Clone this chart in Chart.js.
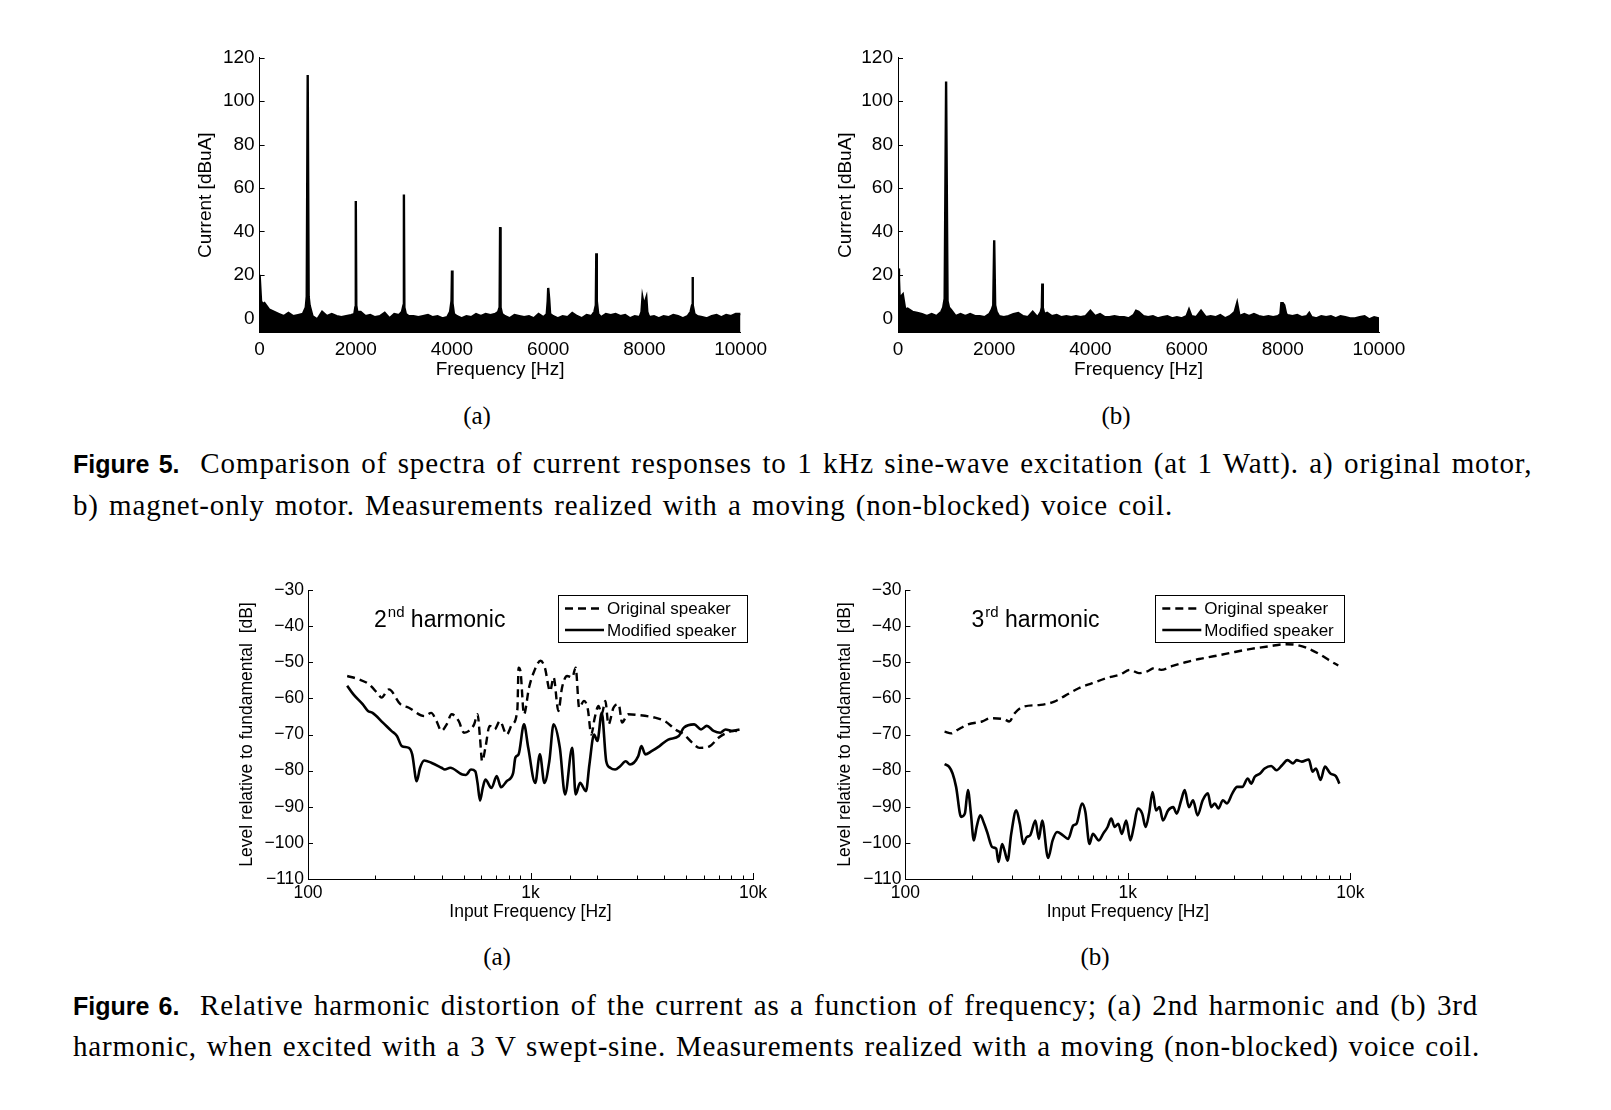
<!DOCTYPE html>
<html>
<head>
<meta charset="utf-8">
<script src="https://cdn.jsdelivr.net/npm/chart.js@4.4.1/dist/chart.umd.min.js"></script>
<style>
  body { margin: 0; background: #fff; width: 1611px; height: 1110px; position: relative; overflow: hidden; }
  canvas { position: absolute; }
  .cap { position: absolute; left: 73px; font-family: "Liberation Serif", serif; font-size: 29px; line-height: 34px; white-space: nowrap; color: #000; }
  .cap b { font-family: "Liberation Sans", sans-serif; font-size: 25px; letter-spacing: 0; }
  .sub { position: absolute; font-family: "Liberation Serif", serif; font-size: 25px; line-height: 30px; transform: translate(-50%, -50%); }
</style>
</head>
<body>
<canvas id="f5a" width="610" height="370" style="left:180px;top:30px"></canvas>
<canvas id="f5b" width="620" height="370" style="left:800px;top:30px"></canvas>
<canvas id="f6a" width="560" height="370" style="left:220px;top:570px"></canvas>
<canvas id="f6b" width="580" height="370" style="left:800px;top:570px"></canvas>

<div class="sub" style="left:477px;top:416px">(a)</div>
<div class="sub" style="left:1116px;top:416px">(b)</div>
<div class="cap" data-w="1457" style="top:446px"><b>Figure 5.</b>&nbsp; Comparison of spectra of current responses to 1 kHz sine-wave excitation (at 1 Watt). a) original motor,</div>
<div class="cap" data-w="1100" style="top:488px">b) magnet-only motor. Measurements realized with a moving (non-blocked) voice coil.</div>

<div class="sub" style="left:497px;top:957px">(a)</div>
<div class="sub" style="left:1095px;top:957px">(b)</div>
<div class="cap" data-w="1403" style="top:988px"><b>Figure 6.</b>&nbsp; Relative harmonic distortion of the current as a function of frequency; (a) 2nd harmonic and (b) 3rd</div>
<div class="cap" data-w="1407" style="top:1029px">harmonic, when excited with a 3 V swept-sine. Measurements realized with a moving (non-blocked) voice coil.</div>

<script>
// Figure 5a - original motor spectrum
var freqA = [0, 30, 60, 100, 200, 300, 400, 500, 600, 700, 800, 900,
  960, 980, 1000, 1020, 1040,
  1100, 1200, 1300, 1400, 1500, 1600, 1700, 1800, 1900,
  1970, 1990, 2000, 2010, 2030,
  2100, 2200, 2300, 2400, 2500, 2600, 2700, 2800, 2900,
  2960, 2990, 3000, 3010, 3040,
  3100, 3200, 3300, 3400, 3500, 3600, 3700, 3800, 3900,
  3960, 3990, 4000, 4010, 4040,
  4100, 4200, 4300, 4400, 4500, 4600, 4700, 4800, 4900,
  4960, 4990, 5000, 5010, 5040,
  5100, 5200, 5300, 5400, 5500, 5600, 5700, 5800, 5900,
  5970, 5990, 6000, 6020, 6040,
  6100, 6200, 6300, 6400, 6500, 6600, 6700, 6800, 6900,
  6960, 6990, 7000, 7010, 7040,
  7100, 7200, 7300, 7400, 7500, 7600, 7700, 7800, 7900,
  7940, 7960, 7990, 8040, 8060,
  8100, 8200, 8300, 8400, 8500, 8600, 8700, 8800, 8900,
  8960, 8990, 9000, 9010, 9040,
  9100, 9200, 9300, 9400, 9500, 9600, 9700, 9800, 9900, 10000];
var levelA = [20, 8, 6.5, 7, 4, 3, 2, 1, 2.5, 1, 1.5, 2,
  5, 10, 112, 10, 6,
  1, -0.5, 3, 1, 2, 1, 0.5, 1, 1.5,
  2, 5, 54, 6, 3,
  3, 1, 1.5, 0.5, 1, 2.5, 0, 2, 1.5,
  3, 6, 57, 5, 2,
  1, 1, 0.5, 1, 1.5, 0.5, 1, 0, 0.5,
  3, 8, 22, 7, 2,
  1, 0, 1, 0.5, 2, 1, 2, 1.5, 2,
  3, 5, 42, 5, 2,
  1, 0, 1.5, 1, 0.5, 1, 0, 2, 0.5,
  2, 8, 14, 9, 2,
  1, 0, 1, 0.5, 2.5, 1, 0, 1.5, 1,
  3, 6, 30, 8, 2,
  0.5, 2, 1.5, 2, 1, 1.5, 0, 1, 0.5,
  3, 9.5, 6, 9.5, 3,
  0.5, 1, 0, 1, 0.5, 1.5, 1, 0, 1,
  3, 6, 19, 6, 2,
  1, 0.5, 0, 1, 1.5, 0.5, 1.5, 1, 2, 2];

// Figure 5b - magnet-only motor spectrum
var freqB = [0, 20, 40, 60, 100, 150, 200, 300, 400, 500, 600, 700, 800, 900,
  940, 970, 1000, 1030, 1060,
  1100, 1200, 1300, 1400, 1500, 1600, 1700, 1800, 1900,
  1950, 1980, 2000, 2020, 2050,
  2100, 2200, 2300, 2400, 2500, 2600, 2700, 2800, 2900,
  2970, 2990, 3000, 3010, 3040,
  3100, 3200, 3300, 3400, 3500, 3600, 3700, 3800, 3900,
  4000, 4100, 4200, 4300, 4400, 4500, 4600, 4700, 4800, 4900,
  4950, 5000,
  5100, 5200, 5300, 5400, 5500, 5600, 5700, 5800, 5900,
  6000, 6050,
  6100, 6200, 6300, 6400, 6500, 6600, 6700, 6800, 6900,
  6950, 7000, 7050,
  7100, 7200, 7300, 7400, 7500, 7600, 7700, 7800, 7900,
  7950, 7970, 8000, 8030, 8070,
  8100, 8200, 8300, 8400, 8500, 8550,
  8600, 8700, 8800, 8900, 9000, 9100, 9200, 9300, 9400, 9500, 9600, 9700, 9800, 9900, 10000];
var levelB = [23, 18, 6, 10, 11, 4, 4.5, 3, 2.5, 2, 1, 2, 1, 3,
  5, 9, 109, 8, 5,
  4, 1, 2, 1, 2, 1, 1, 0.5, 2,
  4, 6, 36, 6, 3,
  1, 0.5, 1, 2, 2.5, 1, 0.5, 3, 0.5,
  3, 5, 16, 5, 2,
  2.5, 1, 1.5, 0.5, 1, 0.5, 1, 0.5, 1,
  3.5, 1, 2, 0.5, 0.5, 1, 0.5, 0.5, 0, 1.5,
  3.5, 3,
  1, 0.5, 1, 0, 0.5, 1, 0, 0.5, 0,
  1, 4,
  1, 0.5, 3.5, 0.5, 1, 0.5, 1.5, 0, 1,
  2, 3, 7,
  1, 2, 1, 2, 1, 0.5, 1, 0.5, 1,
  2, 7, 7, 6, 2,
  1.5, 1, 1.5, 0.5, 1, 2.5,
  0.5, 0, 1, 0.5, 1, 0, 1, 0.5, 0, 0, 0.5, 1, -0.5, 0.5, 0];

// Figure 6a - 2nd harmonic
var freq2Orig = [150, 169, 188, 206, 214, 231, 260, 284, 333, 358, 378, 398, 420, 442, 476, 502, 529, 558, 578, 593,
  606, 627, 655, 690, 728, 782, 827, 873, 884, 901, 935, 985, 1040, 1110, 1160, 1225, 1270, 1335, 1385, 1460,
  1540, 1596, 1655, 1740, 1810, 1875, 1945, 2020, 2090, 2170, 2240, 2360, 2490, 2580, 2740, 3050, 3600, 4010, 4480, 4890,
  5340, 5740, 6400, 7000, 7660, 8230, 8700];
var level2Orig = [-53.8, -54.7, -56.1, -58.7, -59.8, -57.5, -61.6, -62.6, -64.9, -64, -66.3, -69, -67.2, -64.4, -66.3, -69.5, -69, -67.2, -64.4, -70.9,
  -77.4, -73.7, -67.6, -68.6, -66.3, -70, -67.2, -63, -51.5, -52.4, -64.4, -57, -52.4, -49.6, -51.5, -58, -54.2, -63.5, -57.1, -53.8,
  -54.2, -51.5, -62.6, -60.7, -63, -70, -65.3, -62.1, -64.4, -60.7, -67.2, -62.6, -61.6, -66.7, -64.4, -64.6, -65.3, -66.3, -68.6, -70,
  -72.3, -73.7, -73.2, -70.9, -69.5, -69, -69.2];
var freq2Mod = [150, 160, 176, 186, 195, 217, 237, 251, 264, 284, 294, 308, 319, 333, 358, 398, 412, 436, 494, 513,
  540, 565, 578, 593, 610, 627, 668, 705, 737, 782, 836, 855, 884, 935, 977, 1050, 1102, 1155, 1215, 1270,
  1355, 1430, 1540, 1596, 1670, 1775, 1840, 1930, 1998, 2090, 2190, 2280, 2400, 2530, 2680, 2800, 3050, 3150, 3280, 3500,
  3800, 4160, 4640, 4890, 5440, 5840, 6200, 6650, 7130, 7530, 8100, 8700];
var level2Mod = [-56.5, -58.9, -61.6, -63.5, -64, -66.7, -69, -70.4, -73.2, -73.7, -75.5, -82.9, -79.2, -77.2, -77.8, -79.2, -79.7, -79.2, -81.1, -81.2,
  -79.7, -80.2, -83.4, -88.3, -84.8, -82.5, -84.8, -81.5, -84.6, -82.9, -80.6, -76.4, -75.5, -67.2, -73.7, -83.4, -75.5, -83.4, -77.4, -67.2,
  -73.7, -86.6, -73.7, -86.6, -83.4, -85.7, -78.3, -70, -71.8, -64, -77.4, -79.2, -79.7, -78.8, -77.4, -78.3, -76, -73.2, -75.5, -74.6,
  -73.2, -71.4, -70.4, -68.1, -67.2, -68.6, -67.6, -69, -69.5, -68.6, -69, -68.6];

// Figure 6b - 3rd harmonic
var freq3Orig = [150, 161, 172, 191, 221, 241, 279, 293, 310, 339, 405, 467, 521, 601, 692, 799, 922, 1025, 1120, 1224,
  1318, 1412, 1575, 1814, 2090, 2506, 3000, 3587, 4290, 5130, 5700, 6350, 7340, 8160, 8830];
var level3Orig = [-69.2, -69.7, -68.7, -67.2, -66.4, -65.5, -65.8, -66.4, -64.1, -62.3, -61.8, -60.9, -59.3, -57.2, -55.8, -54.4, -53.4, -52.1, -53, -52.5,
  -51.6, -52.1, -51.1, -50, -49.1, -48.2, -47.2, -46.3, -45.6, -45, -45.2, -46, -47.9, -49.7, -50.9];
var freq3Mod = [150, 157, 163, 169, 178, 185, 191, 197, 203, 209, 217, 226, 233, 246, 256, 262, 272, 279, 288, 299,
  315, 327, 339, 351, 364, 384, 398, 412, 438, 459, 481, 511, 539, 568, 588, 622, 644, 672, 696, 741,
  774, 811, 842, 873, 906, 939, 983, 1026, 1063, 1108, 1160, 1202, 1245, 1292, 1338, 1387, 1438, 1517, 1599, 1658,
  1737, 1801, 1881, 1965, 2057, 2170, 2290, 2370, 2460, 2553, 2675, 2790, 2950, 3100, 3270, 3460, 3585, 3720, 3930, 4120,
  4410, 4660, 4935, 5220, 5530, 5740, 6050, 6510, 6760, 7010, 7350, 7690, 8140, 8610, 8930];
var level3Mod = [-78.2, -78.9, -80.8, -84.5, -92.8, -91.9, -85.4, -91.9, -99.3, -95.6, -92.4, -94.7, -97, -101.2, -101.6, -105.3, -100.3, -102.1, -104.9, -97.5,
  -91, -94.7, -100.3, -98.4, -97.9, -93.8, -98.9, -93.8, -104.2, -99.3, -97, -97.9, -98.9, -95.2, -94.7, -89.1, -91.4, -100.3, -97.5, -99.3,
  -97.5, -95.6, -93.3, -95.6, -94.7, -97.5, -93.8, -99.3, -95.6, -90.5, -91.9, -95.6, -91.9, -85.9, -91, -90.1, -93.8, -91, -90.1, -91.9,
  -88.2, -85.4, -90.1, -88.2, -92.4, -88.2, -86.3, -90.1, -89.1, -90.5, -88.2, -89.1, -86.3, -84.5, -84.5, -82.2, -83.6, -81.7, -80.8, -79.4,
  -78.7, -79.9, -78.5, -77.1, -78, -77.1, -77.5, -76.9, -80.3, -79.4, -82.6, -78.9, -80.8, -81.5, -83.6];

var spectrumXTicks = [0, 2000, 4000, 6000, 8000, 10000];
var spectrumYTicks = [0, 20, 40, 60, 80, 100, 120];
var logLabels = { 100: '100', 1000: '1k', 10000: '10k' };

Chart.defaults.font.family = '"Liberation Sans", Arial, sans-serif';
Chart.defaults.color = '#000';

function pairs(xs, ys) {
  return xs.map(function (x, i) { return { x: x, y: ys[i] }; });
}
function asTicks(vals) {
  return vals.map(function (v) { return { value: v }; });
}

// MATLAB style ticks, drawn into the plot area
var inTicks = {
  id: 'inTicks',
  afterDatasetsDraw: function (chart, args, opts) {
    var ctx = chart.ctx, a = chart.chartArea;
    ctx.save();
    ctx.strokeStyle = '#000';
    ctx.lineWidth = 1;
    var ys = chart.scales.y;
    ys.ticks.forEach(function (t) {
      var p = Math.round(ys.getPixelForValue(t.value)) + 0.5;
      ctx.beginPath(); ctx.moveTo(a.left, p); ctx.lineTo(a.left + 5, p); ctx.stroke();
    });
    if (opts.xTicks) {
      var xs = chart.scales.x;
      xs.ticks.forEach(function (t) {
        var p = Math.round(xs.getPixelForValue(t.value)) + 0.5;
        var len = t.label ? 6 : 3.5;
        ctx.beginPath(); ctx.moveTo(p, a.bottom); ctx.lineTo(p, a.bottom - len); ctx.stroke();
      });
    }
    ctx.restore();
  }
};

// boxed legend in the top right corner plus the harmonic label
var boxLegend = {
  id: 'boxLegend',
  afterDatasetsDraw: function (chart, args, opts) {
    if (!opts.show) return;
    var ctx = chart.ctx, a = chart.chartArea;
    var w = 189, h = 47;
    var left = a.right - 6 - w, top = a.top + 5;
    ctx.save();
    ctx.fillStyle = '#fff';
    ctx.fillRect(left, top, w, h);
    ctx.strokeStyle = '#000';
    ctx.lineWidth = 1;
    ctx.strokeRect(Math.round(left) + 0.5, Math.round(top) + 0.5, w, h);
    ctx.font = '17px "Liberation Sans"';
    ctx.textBaseline = 'middle';
    ctx.fillStyle = '#000';
    chart.data.datasets.forEach(function (ds, i) {
      var y = top + 13.5 + i * 21.5;
      ctx.beginPath();
      ctx.setLineDash(ds.borderDash || []);
      ctx.lineWidth = ds.borderWidth;
      ctx.moveTo(left + 7, y); ctx.lineTo(left + 46, y); ctx.stroke();
      ctx.setLineDash([]);
      ctx.fillText(ds.label, left + 49, y + 1);
    });
    // "2nd harmonic" / "3rd harmonic"
    var tx = a.left + 66, ty = a.top + 37;
    ctx.textBaseline = 'alphabetic';
    ctx.font = '23px "Liberation Sans"';
    ctx.fillText(opts.order, tx, ty);
    tx += ctx.measureText(opts.order).width;
    ctx.font = '15px "Liberation Sans"';
    ctx.fillText(opts.suffix, tx + 1, ty - 10);
    tx += ctx.measureText(opts.suffix).width + 1;
    ctx.font = '23px "Liberation Sans"';
    ctx.fillText(' harmonic', tx, ty);
    ctx.restore();
  }
};

function spectrumChart(id, freq, level, box) {
  return new Chart(document.getElementById(id), {
    type: 'line',
    data: {
      datasets: [{
        data: pairs(freq, level),
        borderColor: '#000',
        backgroundColor: '#000',
        borderWidth: 2.4,
        borderJoinStyle: 'miter',
        pointRadius: 0,
        tension: 0,
        fill: 'start'
      }]
    },
    options: {
      responsive: false,
      animation: false,
      events: [],
      layout: { padding: { top: box.top, right: box.right, left: 0, bottom: 0 } },
      plugins: { legend: { display: false }, tooltip: { enabled: false }, inTicks: { xTicks: false } },
      scales: {
        x: {
          type: 'linear', min: 0, max: 10000,
          afterBuildTicks: function (s) { s.ticks = asTicks(spectrumXTicks); },
          afterFit: function (s) { s.height = box.xh; },
          grid: { display: false, drawTicks: false },
          border: { display: true, color: '#000' },
          ticks: { font: { size: 19 }, padding: 6, maxRotation: 0, autoSkip: false, callback: function (v) { return String(v); } },
          title: { display: true, text: 'Frequency [Hz]', font: { size: 19 }, padding: { bottom: 18.6, top: 0 } }
        },
        y: {
          type: 'linear', min: -6.6, max: 120,
          ticks: { font: { size: 19 }, padding: 5, autoSkip: false, callback: function (v) { return String(v); } },
          afterBuildTicks: function (s) { s.ticks = asTicks(spectrumYTicks); },
          afterFit: function (s) { s.width = box.yw; },
          grid: { display: false, drawTicks: false },
          border: { display: true, color: '#000' },
          title: { display: true, text: 'Current [dBuA]', font: { size: 19 }, padding: { top: box.tpad, bottom: 0 } }
        }
      }
    },
    plugins: [inTicks]
  });
}

function harmonicChart(id, fo, lo, fm, lm, box, order, suffix) {
  return new Chart(document.getElementById(id), {
    type: 'line',
    data: {
      datasets: [{
        label: 'Original speaker',
        data: pairs(fo, lo),
        borderColor: '#000',
        borderWidth: 2.4,
        borderDash: [8, 5],
        pointRadius: 0,
        cubicInterpolationMode: 'monotone',
        fill: false
      }, {
        label: 'Modified speaker',
        data: pairs(fm, lm),
        borderColor: '#000',
        borderWidth: 2.6,
        pointRadius: 0,
        cubicInterpolationMode: 'monotone',
        fill: false
      }]
    },
    options: {
      responsive: false,
      animation: false,
      events: [],
      layout: { padding: { top: box.top, right: box.right, left: 0, bottom: 0 } },
      plugins: {
        legend: { display: false }, tooltip: { enabled: false },
        inTicks: { xTicks: true },
        boxLegend: { show: true, order: order, suffix: suffix }
      },
      scales: {
        x: {
          type: 'logarithmic', min: 100, max: 10000,
          afterFit: function (s) { s.height = box.xh; },
          grid: { display: false, drawTicks: false },
          border: { display: true, color: '#000' },
          ticks: { font: { size: 17.5 }, padding: 4, maxRotation: 0, autoSkip: false,
            callback: function (v) { return logLabels[v] || ''; } },
          title: { display: true, text: 'Input Frequency [Hz]', font: { size: 17.5 }, padding: { bottom: 16.9, top: 0 } }
        },
        y: {
          type: 'linear', min: -110, max: -30,
          ticks: { stepSize: 10, font: { size: 17.5 }, padding: 4,
            callback: function (v) { return '\u2212' + Math.abs(v); } },
          afterFit: function (s) { s.width = box.yw; },
          grid: { display: false, drawTicks: false },
          border: { display: true, color: '#000' },
          title: { display: true, text: 'Level relative to fundamental  [dB]', font: { size: 17.5 }, padding: { top: box.tpad, bottom: 0 } }
        }
      }
    },
    plugins: [inTicks, boxLegend]
  });
}

spectrumChart('f5a', freqA, levelA, { top: 27.7, right: 49.4, xh: 67.3, yw: 79.6, tpad: 14.6 });
spectrumChart('f5b', freqB, levelB, { top: 27.7, right: 41, xh: 67.3, yw: 98, tpad: 34.2 });
harmonicChart('f6a', freq2Orig, level2Orig, freq2Mod, level2Mod, { top: 20, right: 27, xh: 61, yw: 88, tpad: 16.5 }, '2', 'nd');
harmonicChart('f6b', freq3Orig, level3Orig, freq3Mod, level3Mod, { top: 20, right: 29.7, xh: 61, yw: 105.4, tpad: 35.1 }, '3', 'rd');

// stretch the caption lines to the measured line widths (mostly letter spacing)
function fitCaptions() {
  document.querySelectorAll('.cap').forEach(function (el) {
    el.style.wordSpacing = '0px';
    el.style.letterSpacing = '0px';
    var natural = el.getBoundingClientRect().width;
    var target = +el.getAttribute('data-w');
    var chars = el.textContent.length;
    var spaces = (el.textContent.match(/ /g) || []).length;
    var extra = target - natural;
    var ls = (extra * 0.75) / chars;
    el.style.letterSpacing = ls + 'px';
    var after = el.getBoundingClientRect().width;
    if (spaces) el.style.wordSpacing = ((target - after) / spaces) + 'px';
  });
}
fitCaptions();
if (document.fonts && document.fonts.ready) document.fonts.ready.then(fitCaptions);
</script>
</body>
</html>
